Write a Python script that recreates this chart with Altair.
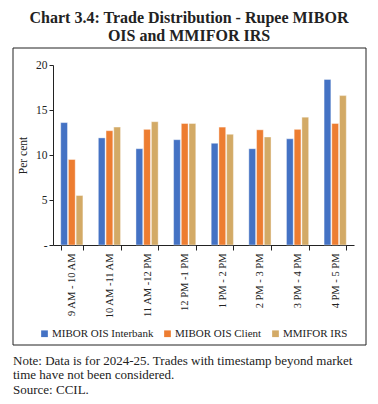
import altair as alt
import pandas as pd

slots = ["9 AM - 10 AM", "10 AM -11 AM", "11 AM -12 PM", "12 PM -1 PM",
         "1 PM - 2 PM", "2 PM - 3 PM", "3 PM - 4 PM", "4 PM - 5 PM"]
series = ["MIBOR OIS Interbank", "MIBOR OIS Client", "MMIFOR IRS"]
interbank = [13.6, 11.9, 10.7, 11.7, 11.3, 10.7, 11.8, 18.4]
client = [9.5, 12.7, 12.85, 13.5, 13.1, 12.8, 12.85, 13.5]
irs = [5.5, 13.1, 13.7, 13.5, 12.3, 12.0, 14.2, 16.6]
y_ticks = [0, 5, 10, 15, 20]
colors = ["#4472C4", "#ED7D31", "#D3AA66"]

title_lines = ["Chart 3.4: Trade Distribution - Rupee MIBOR", "OIS and MMIFOR IRS"]
note_lines = ["Note: Data is for 2024-25. Trades with timestamp beyond market",
              "time have not been considered.",
              "Source: CCIL."]

FONT = "Liberation Serif"

rows = []
for s, vals in zip(series, [interbank, client, irs]):
    for slot, v in zip(slots, vals):
        rows.append({"slot": slot, "series": s, "value": v})
df = pd.DataFrame(rows)

bars = alt.Chart(df).mark_bar(stroke="white", strokeWidth=0.4).encode(
    x=alt.X("slot:N", sort=slots,
            scale=alt.Scale(paddingInner=0.41, paddingOuter=0.205),
            axis=alt.Axis(title=None, labelAngle=-90, tickBand="extent",
                          labelFont=FONT, labelFontSize=10.5, labelColor="#222",
                          domainColor="#222", tickColor="#222", tickSize=5,
                          labelPadding=3)),
    xOffset=alt.XOffset("series:N", sort=series, scale=alt.Scale(paddingInner=0.12)),
    y=alt.Y("value:Q", scale=alt.Scale(domain=[0, 20]),
            axis=alt.Axis(values=y_ticks, grid=False, title="Per cent",
                          labelExpr="datum.value == 0 ? '-' : datum.label",
                          labelFont=FONT, labelFontSize=11.5, labelColor="#222",
                          titleFont=FONT, titleFontSize=11.5, titleFontWeight="normal",
                          titleColor="#222", titlePadding=7,
                          domainColor="#222", tickColor="#222", tickSize=4)),
    color=alt.Color("series:N", sort=series,
                    scale=alt.Scale(domain=series, range=colors),
                    legend=alt.Legend(orient="none", legendX=-14, legendY=263,
                                      direction="horizontal", title=None,
                                      symbolType="square", symbolSize=45,
                                      symbolStrokeWidth=0,
                                      labelFont=FONT, labelFontSize=11,
                                      labelColor="#222", columnPadding=8,
                                      labelOffset=2)),
)

frame = alt.Chart(pd.DataFrame({"a": [0]})).mark_rect(
    fill="transparent", stroke="#222", strokeWidth=1
).encode(x=alt.value(-40), x2=alt.value(313), y=alt.value(-17), y2=alt.value(280))

layers = [frame, bars]
for i, t in enumerate(title_lines):
    layers.append(
        alt.Chart(pd.DataFrame({"t": [t]})).mark_text(
            font=FONT, fontSize=16, fontWeight="bold", color="#222",
            align="center", baseline="alphabetic"
        ).encode(text="t:N", x=alt.value(136), y=alt.value(-42.5 + 18 * i))
    )
for i, t in enumerate(note_lines):
    layers.append(
        alt.Chart(pd.DataFrame({"t": [t]})).mark_text(
            font=FONT, fontSize=13, color="#222",
            align="left", baseline="alphabetic"
        ).encode(text="t:N", x=alt.value(-40), y=alt.value(299.5 + 14.5 * i))
    )

chart = alt.layer(*layers).properties(
    width=301, height=180,
    autosize=alt.AutoSizeParams(type="none"),
    padding={"left": 45, "top": 57, "right": 16, "bottom": 151},
    background="white",
).configure_view(stroke=None)

chart.save("out.html", embed_options={"renderer": "svg", "actions": False})
